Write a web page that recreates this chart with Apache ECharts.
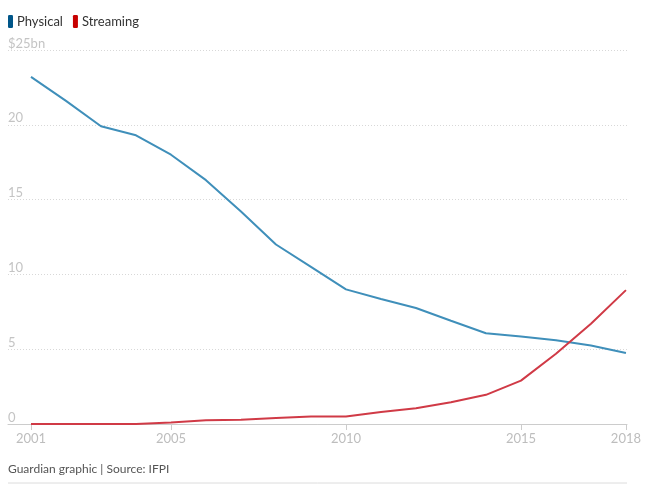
<!DOCTYPE html>
<html>
<head>
<meta charset="utf-8">
<script src="https://cdn.jsdelivr.net/npm/echarts@6/dist/echarts.min.js"></script>
<style>
html,body{margin:0;padding:0;background:#fff;}
#chart{width:645px;height:484px;}
</style>
</head>
<body>
<div id="chart"></div>
<script>
const years = [2001,2002,2003,2004,2005,2006,2007,2008,2009,2010,2011,2012,2013,2014,2015,2016,2017,2018];
const physical = [23.2,21.6,19.9,19.3,18.0,16.3,14.2,12.0,10.5,9.0,8.35,7.75,6.9,6.07,5.85,5.6,5.25,4.75];
const streaming = [0.0,0.0,0.0,0.0,0.1,0.25,0.28,0.4,0.5,0.5,0.8,1.05,1.45,1.95,2.9,4.7,6.7,8.95];
const xTickYears = [2001,2005,2010,2015,2018];
const yTicks = [0,5,10,15,20,25];
const yTopLabel = '$25bn';
const footer = 'Guardian graphic | Source: IFPI';

const FONT = 'Lato';
const chart = echarts.init(document.getElementById('chart'));
chart.setOption({
  animation:false,
  textStyle:{fontFamily:FONT},
  legend:{
    left:3, top:10, itemWidth:5, itemHeight:13, itemGap:10,
    icon:'roundRect',
    textStyle:{fontFamily:FONT,fontSize:13,color:'#333',padding:[0,0,0,-1]},
    data:[{name:'Physical',itemStyle:{color:'#005689'}},{name:'Streaming',itemStyle:{color:'#c70000'}}]
  },
  graphic:[
    {type:'text',left:8,top:463,style:{text:footer,fontFamily:FONT,fontSize:12,fill:'#555'}},
    {type:'line',shape:{x1:8,y1:483,x2:627,y2:483},style:{stroke:'#dcdcdc',lineWidth:1}}
  ],
  grid:{left:8,right:18,top:50,bottom:60,containLabel:false},
  xAxis:{
    type:'value',
    min:2000.343, max:2018.03,
    axisLine:{show:true,lineStyle:{color:'#cccccc',width:1}},
    axisTick:{show:true,length:6,lineStyle:{color:'#cccccc'},customValues:xTickYears},
    axisLabel:{color:'#bdbdbd',fontSize:13,fontFamily:FONT,margin:8,customValues:xTickYears,formatter:v=>String(Math.round(v))},
    splitLine:{show:false}
  },
  yAxis:{
    type:'value', min:0, max:25, interval:5,
    axisLine:{show:false}, axisTick:{show:false},
    axisLabel:{inside:true,margin:0,color:'#c4c4c4',fontSize:13,fontFamily:FONT,verticalAlign:'bottom',padding:[0,0,0,0],
      formatter:v=> v===25 ? yTopLabel : String(v)},
    splitLine:{show:true,lineStyle:{color:'#d8d8d8',type:[1,2],width:1}}
  },
  series:[
    {name:'Physical',type:'line',data:years.map((y,i)=>[y,physical[i]]),showSymbol:false,symbol:'none',
      lineStyle:{color:'#3f8fba',width:2},itemStyle:{color:'#3f8fba'}},
    {name:'Streaming',type:'line',data:years.map((y,i)=>[y,streaming[i]]),showSymbol:false,symbol:'none',
      lineStyle:{color:'#d03a46',width:2},itemStyle:{color:'#d03a46'}}
  ]
});
</script>
</body>
</html>
